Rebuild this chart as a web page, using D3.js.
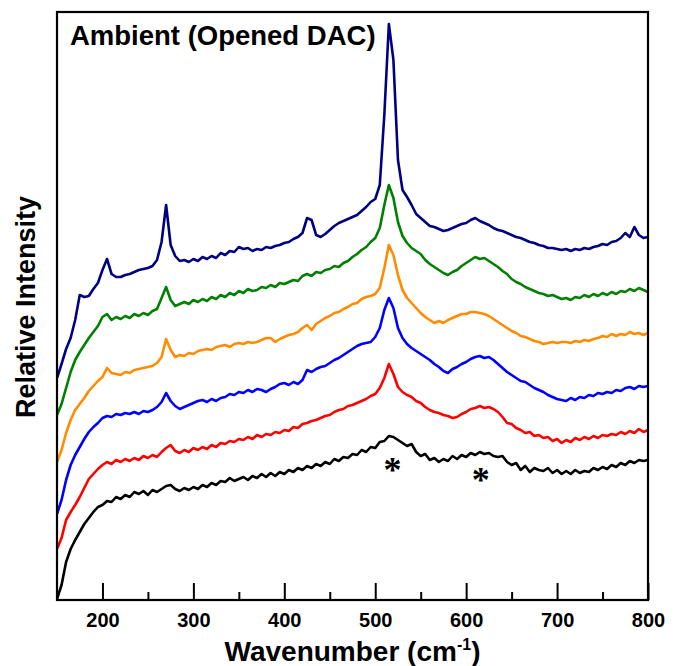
<!DOCTYPE html>
<html>
<head>
<meta charset="utf-8">
<script src="https://cdn.jsdelivr.net/npm/d3@7"></script>
<style>
  body { margin: 0; background: #fff; }
  text { font-family: "Liberation Sans", Arial, sans-serif; font-weight: bold; }
</style>
</head>
<body>
<div id="chart"></div>
<script>
// Raman spectra, sampled every 5 cm-1 from 150 to 800 (arbitrary intensity units, stacked)
const wavenumbers = d3.range(150, 805, 5);

const spectrumBlack = [
  1, 15, 38, 51, 60, 68, 76, 82, 88, 93,
  95, 99, 98, 103, 101, 105, 103, 108, 106, 109,
  105, 110, 108, 111, 114, 115, 111, 109, 112, 110,
  113, 111, 115, 113, 117, 115, 119, 118, 122, 119,
  121, 123, 120, 124, 122, 126, 123, 127, 124, 128,
  126, 130, 128, 132, 130, 134, 132, 136, 134, 138,
  136, 141, 139, 143, 142, 146, 145, 150, 148, 153,
  152, 158, 159, 164, 163, 160, 157, 154, 156, 148,
  144, 146, 140, 142, 138, 141, 139, 144, 141, 145,
  143, 147, 145, 148, 146, 147, 144, 143, 144, 138,
  135, 137, 130, 134, 128, 132, 130, 129, 132, 127,
  130, 126, 129, 126, 130, 127, 129, 128, 132, 130,
  133, 131, 135, 133, 137, 135, 139, 137, 140, 139,
  140
];

const spectrumRed = [
  51, 62, 80, 88, 95, 103, 112, 121, 126, 131,
  135, 138, 136, 140, 138, 141, 139, 142, 140, 144,
  142, 145, 143, 148, 152, 155, 149, 147, 150, 148,
  152, 150, 153, 151, 155, 153, 157, 156, 159, 158,
  161, 160, 163, 161, 165, 163, 166, 165, 168, 167,
  170, 169, 173, 172, 176, 177, 179, 180, 182, 184,
  185, 188, 190, 191, 194, 195, 197, 199, 201, 204,
  206, 212, 222, 236, 226, 213, 208, 205, 203, 199,
  197, 193, 190, 188, 187, 185, 184, 182, 183, 186,
  188, 191, 192, 194, 192, 193, 191, 188, 183, 177,
  176, 172, 170, 167, 168, 164, 165, 162, 163, 159,
  161, 157, 160, 158, 162, 160, 163, 161, 164, 162,
  165, 164, 166, 165, 168, 166, 169, 167, 171, 168,
  170
];

const spectrumBlue = [
  86, 100, 120, 135, 145, 153, 161, 168, 173, 177,
  182, 184, 183, 186, 185, 187, 186, 188, 186, 189,
  188, 190, 193, 198, 207, 199, 194, 191, 193, 195,
  197, 199, 200, 198, 201, 199, 202, 203, 206, 205,
  208, 207, 210, 208, 211, 210, 208, 211, 213, 216,
  217, 215, 218, 216, 220, 230, 228, 231, 233, 234,
  237, 240, 242, 245, 248, 251, 254, 256, 257, 258,
  263, 272, 290, 302, 292, 272, 262, 256, 252, 249,
  246, 243, 240, 236, 233, 229, 227, 231, 233, 236,
  238, 241, 243, 244, 242, 243, 240, 236, 232, 228,
  225, 222, 219, 218, 215, 212, 210, 208, 205, 203,
  201, 200, 199, 202, 200, 203, 202, 205, 204, 207,
  206, 208, 207, 210, 209, 212, 213, 211, 214, 213,
  214
];

const spectrumOrange = [
  138, 150, 167, 180, 190, 196, 202, 209, 214, 219,
  223, 232, 227, 226, 225, 228, 227, 230, 231, 232,
  233, 234, 237, 243, 261, 250, 243, 245, 244, 247,
  246, 249, 250, 251, 250, 253, 254, 255, 253, 256,
  257, 256, 258, 257, 258, 260, 262, 262, 258, 261,
  263, 265, 266, 268, 272, 275, 270, 276, 279, 282,
  284, 287, 288, 291, 293, 296, 297, 301, 303, 304,
  306, 312, 332, 355, 345, 325, 310, 302, 297, 292,
  287, 283, 280, 277, 279, 277, 280, 282, 284, 286,
  286, 288, 288, 287, 286, 284, 281, 278, 275, 272,
  269, 267, 264, 263, 261, 259, 258, 256, 257, 258,
  257, 258, 258, 257, 259, 258, 260, 259, 261, 262,
  264, 263, 266, 264, 266, 265, 268, 266, 267, 265,
  267
];

const spectrumGreen = [
  185, 196, 212, 228, 240, 248, 255, 262, 268, 274,
  283, 286, 280, 283, 281, 284, 282, 286, 284, 287,
  285, 289, 291, 302, 313, 300, 294, 296, 298, 296,
  300, 298, 301, 299, 303, 301, 305, 303, 307, 305,
  309, 307, 311, 309, 310, 313, 312, 315, 313, 317,
  316, 318, 320, 319, 324, 326, 324, 328, 327, 330,
  331, 334, 333, 337, 339, 343, 346, 350, 353, 358,
  362, 372, 395, 415, 402, 378, 364, 357, 352, 349,
  346, 340, 336, 333, 330, 327, 325, 328, 330, 334,
  337, 340, 343, 341, 342, 339, 336, 333, 329, 326,
  321, 318, 316, 313, 311, 309, 307, 306, 304, 305,
  303, 301, 302, 300, 303, 302, 305, 303, 306, 304,
  307, 305, 308, 306, 309, 308, 311, 309, 312, 310,
  308
];

const spectrumNavy = [
  222, 236, 251, 262, 280, 305, 303, 304, 311, 317,
  330, 341, 326, 323, 323, 325, 326, 328, 330, 331,
  332, 334, 340, 358, 395, 355, 344, 339, 340, 338,
  341, 339, 343, 341, 344, 342, 347, 345, 349, 348,
  353, 351, 352, 349, 351, 350, 353, 352, 354, 355,
  357, 358, 361, 363, 367, 382, 380, 365, 363, 366,
  370, 374, 377, 379, 381, 383, 385, 389, 393, 398,
  401, 415, 485, 576, 540, 440, 410, 403, 395, 386,
  382, 378, 374, 373, 371, 369, 370, 372, 374, 376,
  377, 380, 382, 379, 377, 375, 372, 370, 369, 367,
  365, 363, 362, 360, 358, 357, 355, 354, 352, 352,
  351, 350, 351, 349, 351, 350, 352, 351, 353, 354,
  356, 355, 358, 359, 362, 367, 363, 373, 365, 362,
  363
];

const seriesColors = ["#000000", "#ff0000", "#0000ff", "#ff8c00", "#008000", "#000080"];
const seriesValues = [spectrumBlack, spectrumRed, spectrumBlue, spectrumOrange, spectrumGreen, spectrumNavy];

const majorTicks = [200, 300, 400, 500, 600, 700, 800];
const minorTicks = [250, 350, 450, 550, 650, 750];

// substrate / cell peaks marked with asterisks
const asteriskMarks = [{ wn: 519, v: 135 }, { wn: 616, v: 125 }];

// Dimensions
const W = 682, H = 666;
const margin = { top: 12, right: 34, bottom: 66, left: 57 },
      width = W - margin.left - margin.right,
      height = H - margin.top - margin.bottom;

const svg = d3.select("#chart")
  .append("svg")
    .attr("width", W)
    .attr("height", H)
  .append("g")
    .attr("transform", `translate(${margin.left},${margin.top})`);

const x = d3.scaleLinear().domain([150, 800]).range([0, width]);
const y = d3.scaleLinear().domain([0, 588]).range([height, 0]);

svg.append("clipPath").attr("id", "plot-clip")
  .append("rect").attr("width", width).attr("height", height);

// spectra
const line = d3.line()
  .x((d, i) => x(wavenumbers[i]))
  .y(d => y(d));

svg.append("g")
    .attr("clip-path", "url(#plot-clip)")
  .selectAll("path")
  .data(seriesValues)
  .join("path")
    .attr("d", d => line(d))
    .attr("fill", "none")
    .attr("stroke", (d, i) => seriesColors[i])
    .attr("stroke-width", 2.6)
    .attr("stroke-linejoin", "round");

// asterisks
svg.selectAll(".asterisk")
  .data(asteriskMarks)
  .join("text")
    .attr("class", "asterisk")
    .attr("x", d => x(d.wn))
    .attr("y", d => y(d.v) + 17)
    .attr("text-anchor", "middle")
    .style("font-family", "'Liberation Serif', serif")
    .style("font-weight", "bold")
    .style("font-size", "36px")
    .text("*");

// bottom axis, ticks pointing inwards
const xAxis = svg.append("g")
  .attr("transform", `translate(0,${height})`)
  .call(d3.axisBottom(x).tickValues(majorTicks).tickSize(-17).tickFormat(d3.format("d")));
xAxis.select(".domain").remove();
xAxis.selectAll("line").attr("stroke-width", 2);
xAxis.selectAll("text")
  .attr("y", 27)
  .attr("dy", 0)
  .style("font-size", "20px")
  .style("font-family", "'Liberation Sans', Arial, sans-serif")
  .style("font-weight", "bold");

const xMinor = svg.append("g")
  .attr("transform", `translate(0,${height})`)
  .call(d3.axisBottom(x).tickValues(minorTicks).tickSize(-8).tickFormat(""));
xMinor.select(".domain").remove();
xMinor.selectAll("line").attr("stroke-width", 2);

// frame
svg.append("rect")
  .attr("width", width)
  .attr("height", height)
  .attr("fill", "none")
  .attr("stroke", "#000")
  .attr("stroke-width", 2.2);

// title inside plot
svg.append("text")
  .attr("x", 13)
  .attr("y", 33)
  .style("font-size", "27.5px")
  .text("Ambient (Opened DAC)");

// axis labels
const xLabel = svg.append("text")
  .attr("x", width / 2)
  .attr("y", height + 61)
  .attr("text-anchor", "middle")
  .style("font-size", "28px");
xLabel.append("tspan").text("Wavenumber (cm");
xLabel.append("tspan").attr("dy", -11).style("font-size", "16px").text("-1");
xLabel.append("tspan").attr("dy", 11).text(")");

svg.append("text")
  .attr("transform", `translate(${35 - margin.left},${307 - margin.top}) rotate(-90)`)
  .attr("text-anchor", "middle")
  .style("font-size", "27px")
  .text("Relative Intensity");
</script>
</body>
</html>
